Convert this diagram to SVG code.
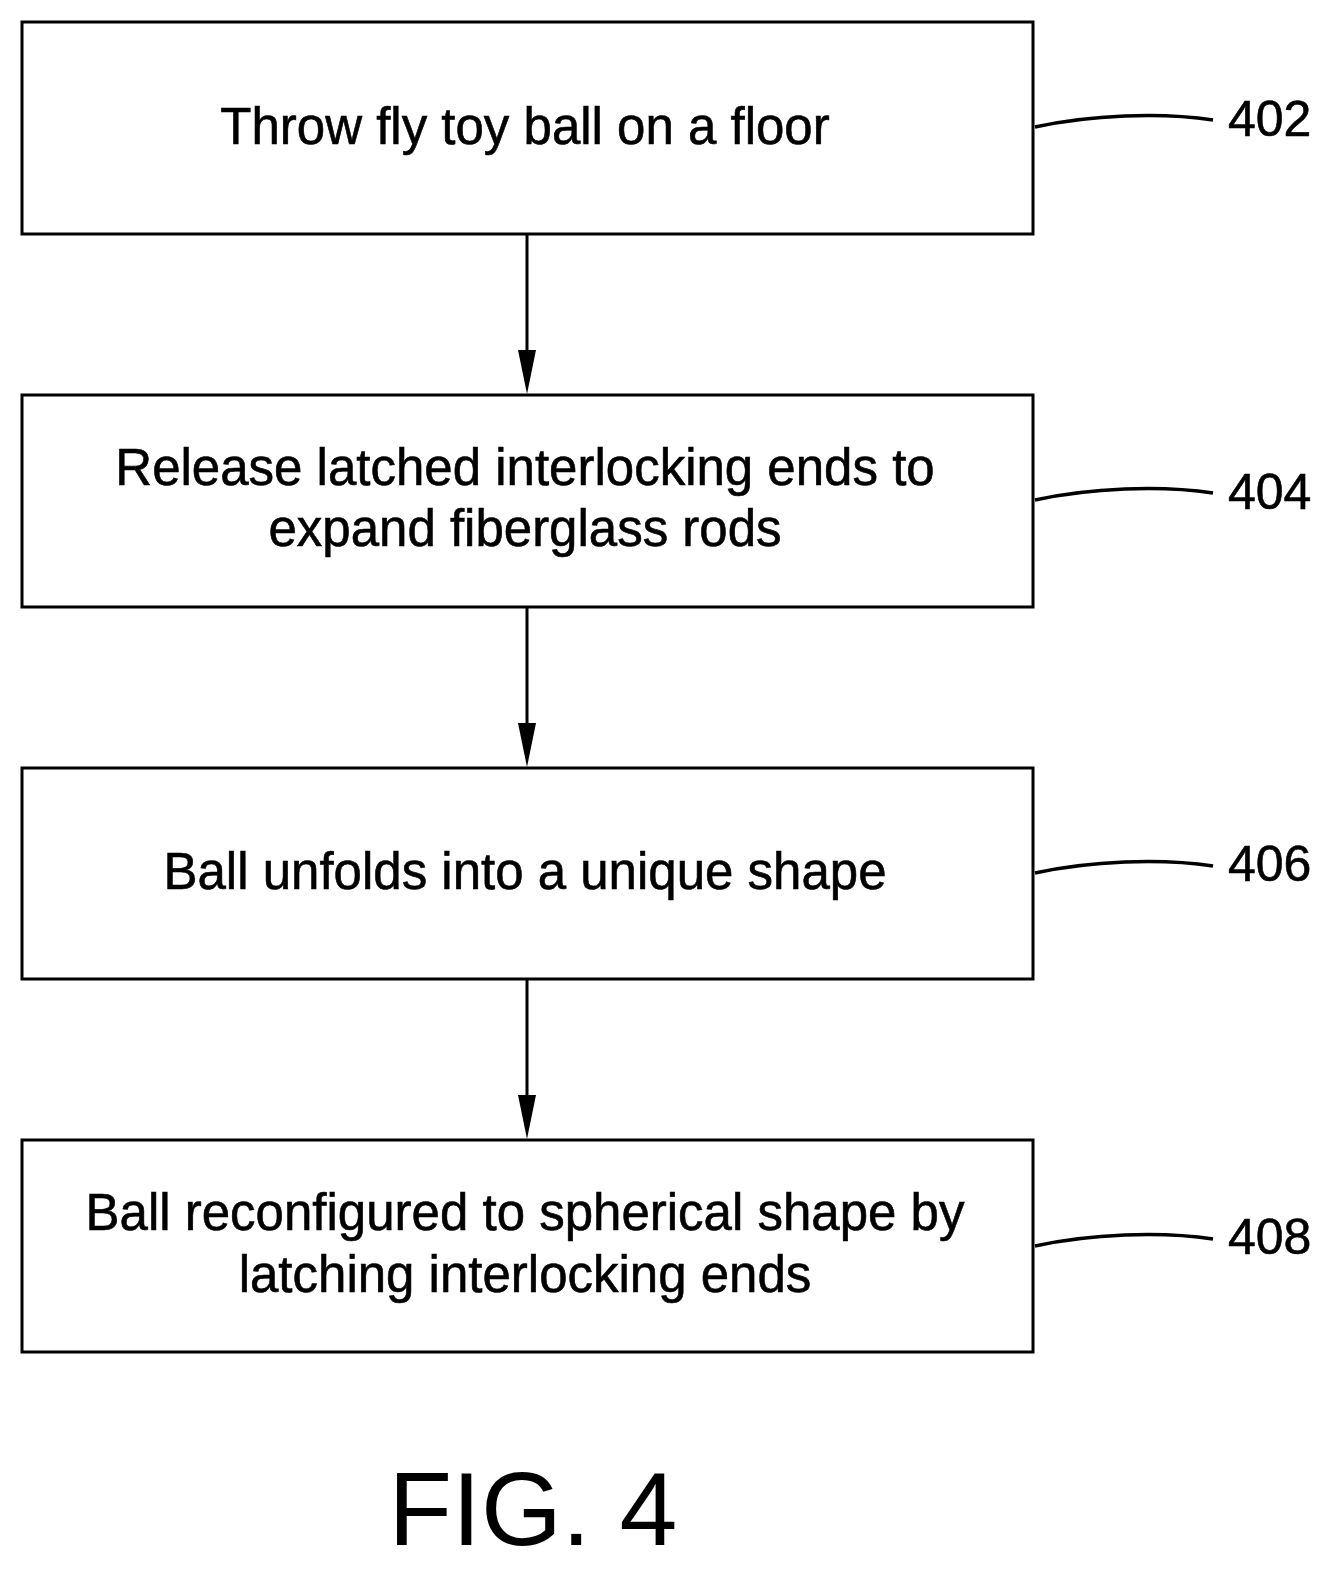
<svg xmlns="http://www.w3.org/2000/svg" width="1343" height="1578" viewBox="0 0 1343 1578">
<style>
.box{fill:#fff;stroke:#000;stroke-width:3}
.t{font-family:"Liberation Sans",Arial,sans-serif;font-size:51px;fill:#000;stroke:#000;stroke-width:0.6;text-anchor:middle}
.r{font-family:"Liberation Sans",Arial,sans-serif;font-size:50px;fill:#000;stroke:#000;stroke-width:0.6}
.c{fill:none;stroke:#000;stroke-width:3.5}
</style>
<rect width="1343" height="1578" fill="#fff"/>
<g id="n402"><rect class="box" x="22" y="22" width="1011" height="212"/><text class="t" x="525" y="144">Throw fly toy ball on a floor</text><path class="c" d="M1035 127 C1090 115,1160 112,1213 120"/><text class="r" x="1228" y="136">402</text></g>
<g id="n404"><rect class="box" x="22" y="395" width="1011" height="212"/><text class="t" x="525" y="485">Release latched interlocking ends to</text><text class="t" x="525" y="546">expand fiberglass rods</text><path class="c" d="M1035 500 C1090 488,1160 485,1213 493"/><text class="r" x="1228" y="509">404</text></g>
<g id="n406"><rect class="box" x="22" y="768" width="1011" height="211"/><text class="t" x="525" y="889">Ball unfolds into a unique shape</text><path class="c" d="M1035 873 C1090 861,1160 858,1213 866"/><text class="r" x="1228" y="881">406</text></g>
<g id="n408"><rect class="box" x="22" y="1140" width="1011" height="212"/><text class="t" x="525" y="1230">Ball reconfigured to spherical shape by</text><text class="t" x="525" y="1292">latching interlocking ends</text><path class="c" d="M1035 1246 C1090 1234,1160 1231,1213 1239"/><text class="r" x="1228" y="1254">408</text></g>
<g id="connectors" fill="#000" stroke="#000" stroke-width="3">
<line x1="527" y1="234" x2="527" y2="362"/><path d="M518 350 L536 350 L527 394 Z" stroke="none"/>
<line x1="527" y1="607" x2="527" y2="735"/><path d="M518 723 L536 723 L527 767 Z" stroke="none"/>
<line x1="527" y1="979" x2="527" y2="1107"/><path d="M518 1095 L536 1095 L527 1139 Z" stroke="none"/>
</g>
<text x="533" y="1545" font-family="Liberation Sans,Arial,sans-serif" font-size="104" text-anchor="middle">FIG. 4</text>
</svg>
